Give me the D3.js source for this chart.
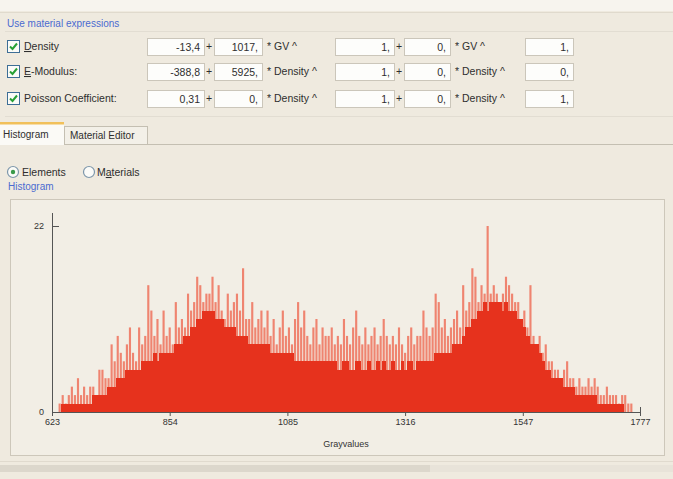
<!DOCTYPE html>
<html>
<head>
<meta charset="utf-8">
<script src="https://cdn.jsdelivr.net/npm/d3@7"></script>
<style>
    body { margin: 0; background: #efeadf; }
    svg { display: block; font-family: "Liberation Sans", Arial, sans-serif; font-size: 10.5px; }
</style>
</head>
<body>
<svg id="chart"></svg>
<script>
// Page size
const WIDTH = 673;
const HEIGHT = 479;

// Histogram data: gray value range, bin size, counts per bin
const GRAY_MIN = 623;
const GRAY_MAX = 1777;
const BIN_SIZE = 6;
const xTickValues = [623, 854, 1085, 1316, 1547, 1777];
const yTickValues = [0, 22];

// solid part of each bin
const bodyCounts = [
    0, 0, 0, 1, 1, 1, 1, 1, 1, 1,
    1, 1, 1, 2, 2, 2, 2, 2, 3, 3,
    3, 4, 4, 4, 5, 5, 5, 5, 5, 6,
    6, 6, 6, 7, 6, 7, 7, 7, 7, 7,
    8, 8, 8, 9, 9, 10, 10, 11, 11, 12,
    12, 12, 12, 11, 11, 11, 10, 10, 10, 10,
    9, 9, 9, 9, 8, 8, 8, 8, 8, 8,
    8, 7, 7, 7, 7, 7, 7, 7, 7, 6,
    6, 6, 6, 6, 6, 6, 6, 6, 6, 6,
    6, 6, 6, 5, 5, 6, 6, 5, 5, 6,
    6, 5, 5, 6, 5, 5, 6, 5, 6, 5,
    5, 6, 5, 5, 6, 5, 6, 6, 5, 6,
    6, 6, 6, 6, 6, 7, 7, 7, 7, 7,
    7, 8, 8, 8, 9, 10, 10, 11, 11, 12,
    12, 13, 12, 13, 13, 13, 13, 12, 13, 12,
    12, 12, 11, 11, 10, 9, 8, 8, 8, 7,
    6, 5, 5, 4, 4, 4, 4, 3, 3, 3,
    3, 2, 2, 2, 2, 2, 2, 2, 1, 1,
    1, 1, 1, 1, 1, 1, 1, 0, 0, 0,
    0, 0
];

// highest single value inside each bin (the pale spikes)
const peakCounts = [
    0, 0, 1, 2, 1, 2, 3, 2, 4, 2,
    3, 2, 3, 3, 2, 5, 5, 4, 4, 8,
    6, 9, 7, 6, 8, 10, 7, 6, 10, 8,
    9, 15, 12, 9, 11, 8, 12, 9, 10, 8,
    13, 10, 11, 10, 14, 12, 13, 16, 15, 13,
    14, 14, 16, 13, 15, 12, 11, 14, 12, 13,
    14, 12, 17, 11, 11, 13, 10, 11, 12, 10,
    12, 9, 11, 8, 10, 12, 9, 10, 8, 11,
    13, 10, 12, 9, 8, 10, 11, 8, 10, 9,
    9, 10, 8, 9, 8, 11, 9, 8, 10, 12,
    9, 8, 10, 8, 9, 10, 8, 9, 11, 9,
    8, 9, 8, 10, 8, 7, 9, 10, 8, 9,
    9, 12, 10, 9, 10, 14, 13, 10, 11, 9,
    10, 11, 12, 10, 15, 12, 13, 17, 16, 13,
    15, 14, 22, 14, 15, 14, 13, 14, 16, 15,
    14, 13, 13, 11, 12, 10, 15, 9, 8, 9,
    7, 8, 6, 6, 5, 5, 4, 5, 6, 4,
    4, 3, 4, 3, 3, 4, 3, 4, 3, 2,
    2, 3, 2, 2, 2, 1, 2, 2, 1, 1,
    0, 0
];

// Material expression rows
const rowLabels = ["Density", "E-Modulus:", "Poisson Coefficient:"];
const rowOffsets = ["-13,4", "-388,8", "0,31"];
const rowFactors = ["1017,", "5925,", "0,"];
const rowOps = ["* GV ^", "* Density ^", "* Density ^"];
const rowInnerFactors = ["1,", "1,", "1,"];
const rowInnerOffsets = ["0,", "0,", "0,"];
const rowOps2 = ["* GV ^", "* Density ^", "* Density ^"];
const rowExponents = ["1,", "0,", "1,"];

// Styling
const BAR_COLOR = "#e6321d";
const SPIKE_COLOR = "#ef8470";
const TEXT_COLOR = "#2e2e2e";
const TITLE_COLOR = "#4b6ad0";
const LINE_COLOR = "#cdc7ba";

const svg = d3.select("#chart")
    .attr("width", WIDTH)
    .attr("height", HEIGHT);

// ---------- window chrome ----------
svg.append("rect").attr("width", WIDTH).attr("height", HEIGHT).attr("fill", "#efeadf");
svg.append("rect").attr("width", WIDTH).attr("height", 11).attr("fill", "#f7f4ee");
svg.append("line").attr("x1", 0).attr("x2", WIDTH).attr("y1", 12.5).attr("y2", 12.5)
    .attr("stroke", "#e0dacd");

svg.append("text").attr("x", 7).attr("y", 27)
    .attr("fill", TITLE_COLOR).attr("font-size", "10px").text("Use material expressions");
svg.append("line").attr("x1", 5).attr("x2", WIDTH).attr("y1", 31.5).attr("y2", 31.5)
    .attr("stroke", "#e2ddd2");
svg.append("line").attr("x1", 5).attr("x2", WIDTH).attr("y1", 116.5).attr("y2", 116.5)
    .attr("stroke", "#e2ddd2");

function textBox(g, x, y, w, h, value) {
    g.append("rect")
        .attr("x", x + 0.5).attr("y", y + 0.5)
        .attr("width", w).attr("height", h)
        .attr("fill", "#fdfdfb")
        .attr("stroke", "#cbc6ba");
    g.append("text")
        .attr("x", x + w - 4).attr("y", y + h / 2 + 4)
        .attr("text-anchor", "end")
        .attr("fill", TEXT_COLOR)
        .text(value);
}

function checkBox(g, x, y) {
    g.append("rect")
        .attr("x", x + 0.5).attr("y", y + 0.5)
        .attr("width", 12).attr("height", 12)
        .attr("fill", "#fbfbf8").attr("stroke", "#3d6e96");
    g.append("path")
        .attr("d", `M${x + 3},${y + 6.5} L${x + 5.5},${y + 9} L${x + 10},${y + 3.5}`)
        .attr("fill", "none").attr("stroke", "#27a035").attr("stroke-width", 2);
}

const rowY = [38, 63, 90];
rowLabels.forEach((label, i) => {
    const g = svg.append("g");
    const y = rowY[i];
    checkBox(g, 7, y + 2);
    const t = g.append("text").attr("x", 24).attr("y", y + 12).attr("fill", TEXT_COLOR);
    if (i < 2) {
        t.append("tspan").attr("text-decoration", "underline").text(label[0]);
        t.append("tspan").text(label.slice(1));
    } else {
        t.text(label);
    }
    textBox(g, 147, y, 57, 17, rowOffsets[i]);
    g.append("text").attr("x", 209).attr("y", y + 12).attr("text-anchor", "middle")
        .attr("fill", TEXT_COLOR).text("+");
    textBox(g, 214, y, 48, 17, rowFactors[i]);
    g.append("text").attr("x", 267).attr("y", y + 12).attr("fill", TEXT_COLOR).text(rowOps[i]);
    textBox(g, 335, y, 59, 17, rowInnerFactors[i]);
    g.append("text").attr("x", 399).attr("y", y + 12).attr("text-anchor", "middle")
        .attr("fill", TEXT_COLOR).text("+");
    textBox(g, 404, y, 46, 17, rowInnerOffsets[i]);
    g.append("text").attr("x", 455).attr("y", y + 12).attr("fill", TEXT_COLOR).text(rowOps2[i]);
    textBox(g, 525, y, 48, 17, rowExponents[i]);
});

// ---------- tabs ----------
svg.append("line").attr("x1", 148).attr("x2", WIDTH).attr("y1", 144.5).attr("y2", 144.5)
    .attr("stroke", "#c4bfb2");
svg.append("rect").attr("x", 64.5).attr("y", 126.5).attr("width", 83).attr("height", 18)
    .attr("fill", "#f3f0e8").attr("stroke", "#c4bfb2");
svg.append("text").attr("x", 70).attr("y", 139).attr("fill", TEXT_COLOR)
    .attr("font-size", "10px").text("Material Editor");
svg.append("rect").attr("x", 0).attr("y", 123).attr("width", 64).attr("height", 22)
    .attr("fill", "#fbfaf6");
svg.append("rect").attr("x", 0).attr("y", 122).attr("width", 64).attr("height", 2.5)
    .attr("fill", "#f1c05a");
svg.append("text").attr("x", 3).attr("y", 138).attr("fill", TEXT_COLOR)
    .attr("font-size", "10px").text("Histogram");

// ---------- radio buttons ----------
function radio(x, y, selected) {
    svg.append("circle").attr("cx", x).attr("cy", y).attr("r", 5.5)
        .attr("fill", "#fbfbf8").attr("stroke", "#7d97ab").attr("stroke-width", 1.2);
    if (selected) {
        svg.append("circle").attr("cx", x).attr("cy", y).attr("r", 2.2).attr("fill", "#3b9a4a");
    }
}
radio(13, 172, true);
svg.append("text").attr("x", 22).attr("y", 176).attr("fill", TEXT_COLOR).text("Elements");
radio(89, 172, false);
const mat = svg.append("text").attr("x", 97).attr("y", 176).attr("fill", TEXT_COLOR);
mat.append("tspan").text("M");
mat.append("tspan").attr("text-decoration", "underline").text("a");
mat.append("tspan").text("terials");

svg.append("text").attr("x", 8).attr("y", 190).attr("fill", TITLE_COLOR)
    .attr("font-size", "10px").text("Histogram");

// ---------- histogram panel ----------
svg.append("rect").attr("x", 10.5).attr("y", 199.5).attr("width", 654).attr("height", 256)
    .attr("fill", "#f2eee5").attr("stroke", LINE_COLOR);

const x = d3.scaleLinear().domain([GRAY_MIN, GRAY_MAX]).range([52, 640]);
const y = d3.scaleLinear().domain([0, 22]).range([412, 226]);
const binW = x(GRAY_MIN + BIN_SIZE) - x(GRAY_MIN);

const bins = bodyCounts.map((c, i) => ({
    x0: GRAY_MIN + i * BIN_SIZE,
    body: c,
    peak: peakCounts[i]
}));

const plot = svg.append("g");

// pale spikes
plot.selectAll("rect.spike")
    .data(bins.filter(d => d.peak > 0))
    .join("rect")
    .attr("class", "spike")
    .attr("x", d => x(d.x0) + binW * 0.15)
    .attr("width", binW * 0.7)
    .attr("y", d => y(d.peak))
    .attr("height", d => y(0) - y(d.peak))
    .attr("fill", SPIKE_COLOR);

// solid bars
plot.selectAll("rect.bar")
    .data(bins.filter(d => d.body > 0))
    .join("rect")
    .attr("class", "bar")
    .attr("x", d => x(d.x0))
    .attr("width", binW + 0.6)
    .attr("y", d => y(d.body))
    .attr("height", d => y(0) - y(d.body))
    .attr("fill", BAR_COLOR)
    .attr("shape-rendering", "crispEdges");

// x axis
const xAxis = svg.append("g")
    .attr("transform", `translate(0,${y(0)})`)
    .call(d3.axisBottom(x).tickValues(xTickValues).tickSize(4).tickPadding(3)
        .tickFormat(d3.format("d")));
xAxis.select(".domain").attr("stroke", "#555").attr("d", `M${x(GRAY_MIN)},0.5H${x(GRAY_MAX)}`);
xAxis.selectAll(".tick line").attr("stroke", "#555");
xAxis.selectAll(".tick").filter(d => d === GRAY_MAX).select("line").attr("y1", -5);
xAxis.selectAll("text").attr("fill", "#333").attr("font-size", "9px")
    .attr("font-family", "Liberation Sans, Arial, sans-serif");

// y axis
const yAxis = svg.append("g")
    .attr("transform", `translate(${x(GRAY_MIN)},0)`)
    .call(d3.axisLeft(y).tickValues(yTickValues).tickSize(5).tickPadding(3));
yAxis.select(".domain").attr("stroke", "#555").attr("d", `M0.5,213V${y(0)}`);
yAxis.selectAll(".tick line").attr("stroke", "#555").attr("x2", 7);
yAxis.selectAll("text").attr("fill", "#333").attr("font-size", "9px")
    .attr("font-family", "Liberation Sans, Arial, sans-serif");

svg.append("text")
    .attr("x", (x(GRAY_MIN) + x(GRAY_MAX)) / 2)
    .attr("y", 447)
    .attr("text-anchor", "middle")
    .attr("fill", "#333")
    .attr("font-size", "9px")
    .text("Grayvalues");

// ---------- status strip ----------
svg.append("line").attr("x1", 0).attr("x2", WIDTH).attr("y1", 461.5).attr("y2", 461.5)
    .attr("stroke", "#e0dace");
svg.append("rect").attr("x", 0).attr("y", 465).attr("width", 430).attr("height", 7)
    .attr("fill", "#dcd7cc");
svg.append("rect").attr("x", 430).attr("y", 465).attr("width", WIDTH - 430).attr("height", 7)
    .attr("fill", "#e8e3d9");
</script>
</body>
</html>
